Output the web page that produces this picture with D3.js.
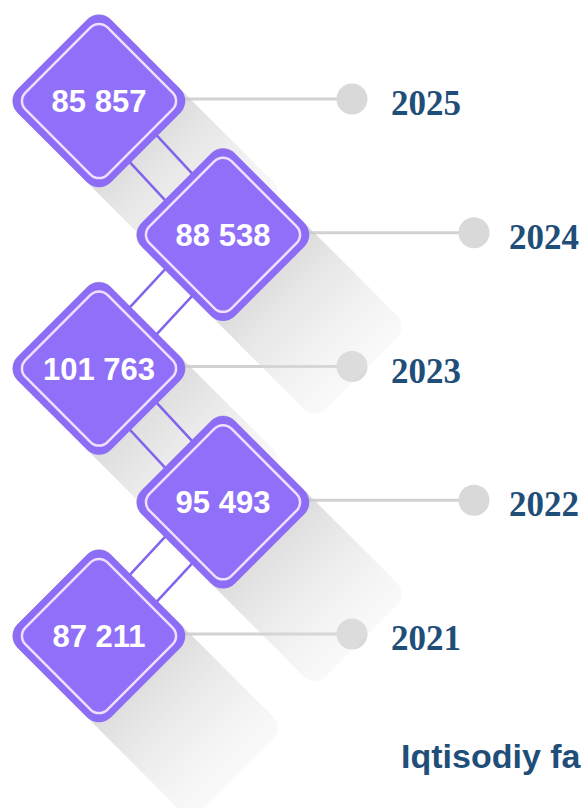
<!DOCTYPE html>
<html>
<head>
<meta charset="utf-8">
<script src="https://cdn.jsdelivr.net/npm/d3@7"></script>
<style>
  body { margin: 0; background: #fff; }
  svg { display: block; }
</style>
</head>
<body>
<svg id="chart"></svg>
<script>
// data, top (newest) to bottom
var years = ["2025", "2024", "2023", "2022", "2021"]
var values = [85857, 88538, 101763, 95493, 87211]
var caption = "Iqtisodiy fa"

var screen = {width: 585, height: 808}
var half = 66          // half side of the rounded square
var tail = 130         // length of the shadow behind each square

var svg = d3.select("#chart")
    .attr("width", screen.width)
    .attr("height", screen.height)

var rows = years.map(function(y, i) { return {year: y, value: values[i], i: i} })

var yScale = d3.scalePoint().domain(years).range([101, 636])
var xScale = d3.scaleOrdinal().domain([0, 1]).range([99, 223])
var dotScale = d3.scaleOrdinal().domain([0, 1]).range([352, 474])
var labelScale = d3.scaleOrdinal().domain([0, 1]).range([391, 509])

var cx = function(d) { return xScale(d.i % 2) }
var cy = function(d) { return yScale(d.year) }
var fmt = function(v) { return d3.format(",")(v).replace(/,/g, " ") }

var defs = svg.append("defs")
var grad = defs.append("linearGradient")
    .attr("id", "shade")
    .attr("x1", 0).attr("y1", 0).attr("x2", 1).attr("y2", 0)
grad.append("stop").attr("offset", 0).attr("stop-color", "#b4b4b4").attr("stop-opacity", 0.8)
grad.append("stop").attr("offset", 0.5).attr("stop-color", "#c9c9c9").attr("stop-opacity", 0.6)
grad.append("stop").attr("offset", 1).attr("stop-color", "#e8e8e8").attr("stop-opacity", 0.25)

// leader lines and year dots
var leaders = svg.append("g").classed("leaders", true)
leaders.selectAll("line")
    .data(rows)
    .enter()
    .append("line")
    .attr("x1", function(d) { return cx(d) + half * 1.3 })
    .attr("x2", function(d) { return dotScale(d.i % 2) })
    .attr("y1", function(d) { return cy(d) - 2 })
    .attr("y2", function(d) { return cy(d) - 2 })
    .attr("stroke", "#d2d2d2")
    .attr("stroke-width", 3)
leaders.selectAll("circle")
    .data(rows)
    .enter()
    .append("circle")
    .attr("cx", function(d) { return dotScale(d.i % 2) })
    .attr("cy", function(d) { return cy(d) - 2 })
    .attr("r", 15.5)
    .attr("fill", "#d9d9d9")

// long shadows
svg.append("g").classed("shadows", true)
    .selectAll("rect")
    .data(rows)
    .enter()
    .append("rect")
    .attr("transform", function(d) { return "translate(" + cx(d) + "," + cy(d) + ") rotate(45)" })
    .attr("x", -half)
    .attr("y", -half)
    .attr("width", 2 * half + tail)
    .attr("height", 2 * half)
    .attr("rx", 16)
    .attr("fill", "url(#shade)")

// double connectors between neighbouring squares
var links = d3.pairs(rows)
var conn = svg.append("g").classed("connectors", true)
;[-19, 19].forEach(function(off) {
  conn.selectAll(null)
      .data(links)
      .enter()
      .append("line")
      .each(function(p) {
        var x1 = cx(p[0]), y1 = cy(p[0]), x2 = cx(p[1]), y2 = cy(p[1])
        var len = Math.hypot(x2 - x1, y2 - y1)
        var nx = -(y2 - y1) / len * off, ny = (x2 - x1) / len * off
        d3.select(this)
            .attr("x1", x1 + nx).attr("y1", y1 + ny)
            .attr("x2", x2 + nx).attr("y2", y2 + ny)
      })
      .attr("stroke", "#8263ee")
      .attr("stroke-width", 2.5)
})

// rounded squares
var boxes = svg.append("g").classed("boxes", true)
    .selectAll("g")
    .data(rows)
    .enter()
    .append("g")
    .attr("transform", function(d) { return "translate(" + cx(d) + "," + cy(d) + ") rotate(45)" })
boxes.append("rect")
    .attr("x", -half).attr("y", -half)
    .attr("width", 2 * half).attr("height", 2 * half)
    .attr("rx", 17)
    .attr("fill", "#8e6df6")
boxes.append("rect")
    .attr("x", -half + 8).attr("y", -half + 8)
    .attr("width", 2 * half - 16).attr("height", 2 * half - 16)
    .attr("rx", 12)
    .attr("fill", "#9170f9")
    .attr("stroke", "#efe0ff")
    .attr("stroke-width", 2.5)

// value labels
svg.append("g").classed("values", true)
    .selectAll("text")
    .data(rows)
    .enter()
    .append("text")
    .text(function(d) { return fmt(d.value) })
    .attr("x", function(d) { return cx(d) })
    .attr("y", function(d) { return cy(d) + 11 })
    .attr("text-anchor", "middle")
    .attr("font-family", "'Liberation Sans', Arial, sans-serif")
    .attr("font-weight", "bold")
    .attr("font-size", 31)
    .attr("fill", "#ffffff")

// year labels
svg.append("g").classed("years", true)
    .selectAll("text")
    .data(rows)
    .enter()
    .append("text")
    .text(function(d) { return d.year })
    .attr("x", function(d) { return labelScale(d.i % 2) })
    .attr("y", function(d) { return cy(d) + 14 })
    .attr("font-family", "'Liberation Serif', 'DejaVu Serif', serif")
    .attr("font-weight", "bold")
    .attr("font-size", 35)
    .attr("fill", "#1f4e79")

svg.append("text")
    .text(caption)
    .attr("x", 401)
    .attr("y", 768)
    .attr("font-family", "'Liberation Sans', Arial, sans-serif")
    .attr("font-weight", "bold")
    .attr("font-size", 34)
    .attr("fill", "#1f4e79")
</script>
</body>
</html>
